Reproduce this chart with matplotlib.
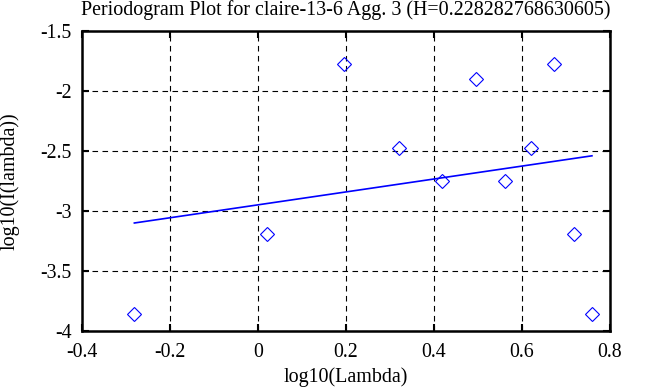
import matplotlib
matplotlib.use("Agg")
import matplotlib.pyplot as plt

plt.rcParams['font.family'] = ['Liberation Serif', 'DejaVu Serif']
plt.rcParams['axes.unicode_minus'] = False

log_lambda = [-0.281, 0.020, 0.196, 0.321, 0.418, 0.495, 0.562, 0.620, 0.672, 0.718, 0.759]
log_I = [-3.858, -3.19, -1.772, -2.475, -2.75, -1.903, -2.75, -2.475, -1.772, -3.19, -3.858]
fit_x = [-0.281, 0.759]
fit_y = [-3.10, -2.54]
xticks = [-0.4, -0.2, 0, 0.2, 0.4, 0.6, 0.8]
xticklabels = ['-0.4', '-0.2', '0', '0.2', '0.4', '0.6', '0.8']
yticks = [-4, -3.5, -3, -2.5, -2, -1.5]
yticklabels = ['-4', '-3.5', '-3', '-2.5', '-2', '-1.5']

fig = plt.figure(figsize=(6.58, 3.87), dpi=100)
ax = fig.add_axes([82/658, 1-331/387, 528/658, 300/387])

ax.plot(log_lambda, log_I, linestyle='none', marker='D', markersize=7.3,
        markerfacecolor='none', markeredgecolor='#0000ff', markeredgewidth=0.8, zorder=3)
ax.plot(fit_x, fit_y, color='#0000ff', linewidth=1.2, zorder=3)

ax.set_xlim(-0.4, 0.8)
ax.set_ylim(-4, -1.5)
ax.set_xticks(xticks)
ax.set_xticklabels(xticklabels)
ax.set_yticks(yticks)
ax.set_yticklabels(yticklabels)
ax.grid(True, color='black', linestyle=(0, (5, 4)), linewidth=0.8)
ax.tick_params(direction='in', top=True, right=True, length=5, width=1.5, labelsize=14.3)
ax.tick_params(axis='x', pad=8.5)
ax.tick_params(axis='y', pad=7.3)
for s in ax.spines.values():
    s.set_linewidth(1.8)

ax.set_title('Periodogram Plot for claire-13-6 Agg. 3 (H=0.228282768630605)', fontsize=14.4, pad=11.5)
ax.set_xlabel('log10(Lambda)', fontsize=14.4, labelpad=4)
ax.set_ylabel('log10(I(lambda))', fontsize=14.4, labelpad=15)

fig.savefig('out.png', dpi=100)
